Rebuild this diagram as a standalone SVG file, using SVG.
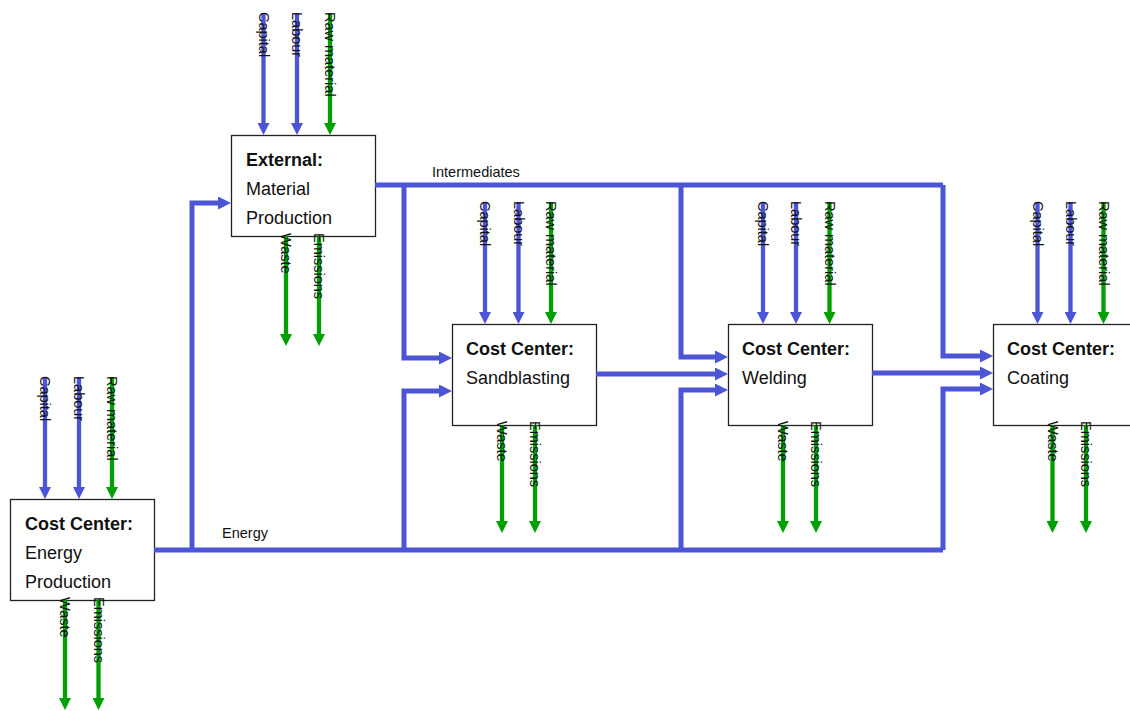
<svg xmlns="http://www.w3.org/2000/svg" width="1130" height="711" viewBox="0 0 1130 711">
<style>
.box{fill:#fff;stroke:#222;stroke-width:1.3}
.t{font-family:"Liberation Sans",Arial,sans-serif;font-size:18px;fill:#111}
.b{font-weight:bold}
.fl{font-family:"Liberation Sans",Arial,sans-serif;font-size:14.5px;fill:#111}
.lb{font-family:"Liberation Sans",Arial,sans-serif;font-size:14.5px;fill:#111}
.in{fill:none;stroke:#4b55d6;stroke-width:4.3;marker-end:url(#ab)}
.raw{fill:none;stroke:#00a000;stroke-width:4.3;marker-end:url(#ag)}
.out{fill:none;stroke:#00a000;stroke-width:4.3;marker-end:url(#ag)}
.c{fill:none;stroke:#4b55d6;stroke-width:5;stroke-linejoin:miter}
.ca{fill:none;stroke:#4b55d6;stroke-width:5;stroke-linejoin:miter;marker-end:url(#abL)}
</style>
<defs>
<marker id="ab" markerUnits="userSpaceOnUse" markerWidth="12" markerHeight="12" viewBox="0 0 12 12" refX="4" refY="6" orient="auto"><path d="M0,0L12,6L0,12z" fill="#4b55d6"/></marker>
<marker id="ag" markerUnits="userSpaceOnUse" markerWidth="12" markerHeight="12" viewBox="0 0 12 12" refX="4" refY="6" orient="auto"><path d="M0,0L12,6L0,12z" fill="#00a000"/></marker>
<marker id="abL" markerUnits="userSpaceOnUse" markerWidth="13" markerHeight="13" viewBox="0 0 13 13" refX="5" refY="6.5" orient="auto"><path d="M0,0L13,6.5L0,13z" fill="#4b55d6"/></marker>
</defs>
<rect width="1130" height="711" fill="#fff"/>

<g id="node-material-production">
<rect class="box" x="231.5" y="135.5" width="144" height="101"/>
<text class="t b" x="246" y="166">External:</text>
<text class="t" x="246" y="195">Material</text>
<text class="t" x="246" y="224">Production</text>
</g>
<g id="node-energy-production">
<rect class="box" x="10.5" y="499.5" width="144" height="101"/>
<text class="t b" x="25" y="530">Cost Center:</text>
<text class="t" x="25" y="559">Energy</text>
<text class="t" x="25" y="588">Production</text>
</g>
<g id="node-sandblasting">
<rect class="box" x="452.5" y="324.5" width="144" height="101"/>
<text class="t b" x="466" y="355">Cost Center:</text>
<text class="t" x="466" y="384">Sandblasting</text>
</g>
<g id="node-welding">
<rect class="box" x="728.5" y="324.5" width="144" height="101"/>
<text class="t b" x="742" y="355">Cost Center:</text>
<text class="t" x="742" y="384">Welding</text>
</g>
<g id="node-coating">
<rect class="box" x="993.5" y="324.5" width="144" height="101"/>
<text class="t b" x="1007" y="355">Cost Center:</text>
<text class="t" x="1007" y="384">Coating</text>
</g>

<g id="connectors">
<!-- Energy network -->
<path class="c" d="M154,550H943"/>
<path class="ca" d="M943,550V389H985"/>
<path class="ca" d="M192,550V203H223"/>
<path class="ca" d="M404,550V391H444"/>
<path class="ca" d="M681,550V390H720"/>
<!-- Intermediates network -->
<path class="c" d="M375,185H943"/>
<path class="ca" d="M943,185V356H985"/>
<path class="ca" d="M404,185V358H444"/>
<path class="ca" d="M681,185V357H720"/>
<!-- Product flows -->
<path class="ca" d="M596,374H720"/>
<path class="ca" d="M872,373H985"/>
<text class="lb" x="432" y="177">Intermediates</text>
<text class="lb" x="222" y="538">Energy</text>

<!-- Material Production flows -->
<path class="in" d="M263.5,13V127"/>
<path class="in" d="M297,13V127"/>
<path class="raw" d="M330,13V127"/>
<path class="out" d="M286,236V338"/>
<path class="out" d="M319,236V338"/>
<!-- Energy Production flows -->
<path class="in" d="M45,377V491"/>
<path class="in" d="M79,377V491"/>
<path class="raw" d="M112,377V491"/>
<path class="out" d="M65,600V702"/>
<path class="out" d="M98.5,600V702"/>
<!-- Sandblasting flows -->
<path class="in" d="M485,202V316"/>
<path class="in" d="M518.5,202V316"/>
<path class="raw" d="M551,202V316"/>
<path class="out" d="M502,425V525"/>
<path class="out" d="M535,425V525"/>
<!-- Welding flows -->
<path class="in" d="M763,202V316"/>
<path class="in" d="M796,202V316"/>
<path class="raw" d="M829.5,202V316"/>
<path class="out" d="M783,425V525"/>
<path class="out" d="M816,425V525"/>
<!-- Coating flows -->
<path class="in" d="M1037.5,202V316"/>
<path class="in" d="M1070.5,202V316"/>
<path class="raw" d="M1103.5,202V316"/>
<path class="out" d="M1052.5,425V525"/>
<path class="out" d="M1086,425V525"/>

<!-- rotated flow labels -->
<text class="fl" transform="translate(258.5,12) rotate(90)">Capital</text>
<text class="fl" transform="translate(292,12) rotate(90)">Labour</text>
<text class="fl" transform="translate(325,12) rotate(90)">Raw material</text>
<text class="fl" transform="translate(281,233) rotate(90)">Waste</text>
<text class="fl" transform="translate(314,233) rotate(90)">Emissions</text>

<text class="fl" transform="translate(40,376) rotate(90)">Capital</text>
<text class="fl" transform="translate(74,376) rotate(90)">Labour</text>
<text class="fl" transform="translate(107,376) rotate(90)">Raw material</text>
<text class="fl" transform="translate(60,597) rotate(90)">Waste</text>
<text class="fl" transform="translate(93.5,597) rotate(90)">Emissions</text>

<text class="fl" transform="translate(480,201) rotate(90)">Capital</text>
<text class="fl" transform="translate(513.5,201) rotate(90)">Labour</text>
<text class="fl" transform="translate(546,201) rotate(90)">Raw material</text>
<text class="fl" transform="translate(497,421) rotate(90)">Waste</text>
<text class="fl" transform="translate(530,421) rotate(90)">Emissions</text>

<text class="fl" transform="translate(758,201) rotate(90)">Capital</text>
<text class="fl" transform="translate(791,201) rotate(90)">Labour</text>
<text class="fl" transform="translate(824.5,201) rotate(90)">Raw material</text>
<text class="fl" transform="translate(778,421) rotate(90)">Waste</text>
<text class="fl" transform="translate(811,421) rotate(90)">Emissions</text>

<text class="fl" transform="translate(1032.5,201) rotate(90)">Capital</text>
<text class="fl" transform="translate(1065.5,201) rotate(90)">Labour</text>
<text class="fl" transform="translate(1098.5,201) rotate(90)">Raw material</text>
<text class="fl" transform="translate(1047.5,421) rotate(90)">Waste</text>
<text class="fl" transform="translate(1081,421) rotate(90)">Emissions</text>
</g>
</svg>
